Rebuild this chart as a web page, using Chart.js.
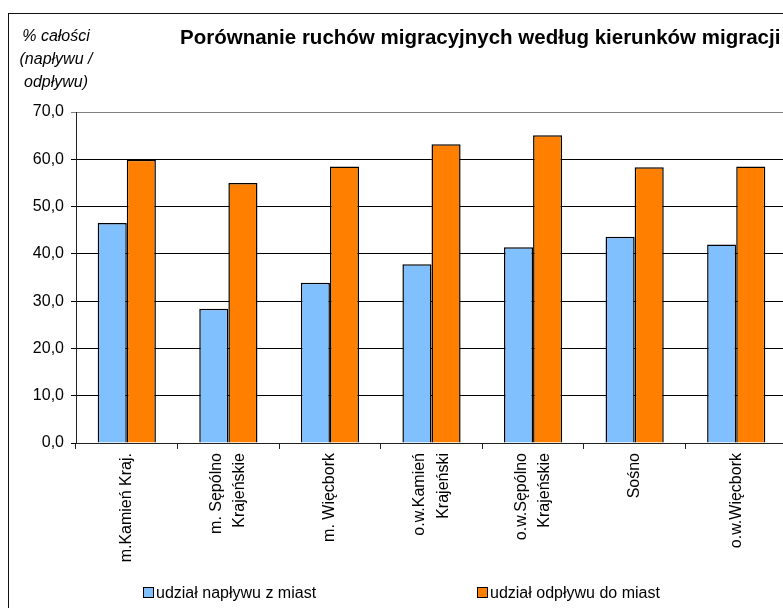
<!DOCTYPE html>
<html><head><meta charset="utf-8">
<style>html,body{margin:0;padding:0;overflow:hidden;background:#fff}canvas{display:block}</style>
<script src="https://cdn.jsdelivr.net/npm/chart.js@4/dist/chart.umd.min.js"></script>
</head><body>
<canvas id="c" width="800" height="640"></canvas>
<script>
const categories = [
  'm.Kamień Kraj.',
  ['m. Sępólno', 'Krajeńskie'],
  'm. Więcbork',
  ['o.w.Kamień', 'Krajeński'],
  ['o.w.Sępólno', 'Krajeńskie'],
  'Sośno',
  'o.w.Więcbork'
];
const inflowShare = [46.5, 28.4, 33.9, 37.8, 41.4, 43.6, 42.0];
const outflowShare = [59.9, 55.0, 58.5, 63.2, 65.1, 58.3, 58.5];
const seriesNames = ['udział napływu z miast', 'udział odpływu do miast'];
const seriesColors = ['#80C0FF', '#FF8000'];
const yMin = 0, yMax = 70, yStep = 10;
const chartTitle = 'Porównanie ruchów migracyjnych według kierunków migracji';
const yTitleLines = ['% całości', '(napływu /', 'odpływu)'];

const FONT = '"Liberation Sans", Arial, sans-serif';
const X_LINE_HEIGHT = 1.45;
const X_FONT_SIZE = 16;

// centre multi-line rotated category labels on their tick
const centerLabels = {
  id: 'centerLabels',
  beforeDraw(chart) {
    const sc = chart.scales.x;
    const items = sc.getLabelItems();
    const lh = X_FONT_SIZE * X_LINE_HEIGHT;
    items.forEach(it => {
      if (it._centered) return;
      const n = Array.isArray(it.label) ? it.label.length : 1;
      it.options.translation[0] -= (n - 1) * lh / 2;
      it._centered = true;
    });
  }
};

const decor = {
  id: 'decor',
  afterDraw(chart) {
    const ctx = chart.ctx;
    ctx.save();
    // outer frame
    ctx.strokeStyle = '#111';
    ctx.lineWidth = 1;
    ctx.strokeRect(8.5, 13.5, 900, 700);
    // title
    ctx.fillStyle = '#000';
    ctx.textBaseline = 'alphabetic';
    ctx.textAlign = 'left';
    ctx.font = 'bold 20.5px ' + FONT;
    ctx.fillText(chartTitle, 180, 44);
    // y axis title
    ctx.font = 'italic 16px ' + FONT;
    ctx.textAlign = 'center';
    yTitleLines.forEach((t, i) => ctx.fillText(t, 56, 41 + i * 23));
    // legend
    ctx.font = '16px ' + FONT;
    ctx.textAlign = 'left';
    const xs = [143, 477];
    chart.data.datasets.forEach((ds, i) => {
      ctx.fillStyle = ds.backgroundColor;
      ctx.fillRect(xs[i] + 0.5, 587.5, 10, 10);
      ctx.strokeStyle = '#000';
      ctx.strokeRect(xs[i] + 0.5, 587.5, 10, 10);
      ctx.fillStyle = '#000';
      ctx.fillText(ds.label, xs[i] + 13, 598);
    });
    ctx.restore();
  }
};

new Chart(document.getElementById('c'), {
  type: 'bar',
  data: {
    labels: categories,
    datasets: [
      { label: seriesNames[0], data: inflowShare, backgroundColor: seriesColors[0], borderColor: '#000', borderWidth: 1.5 },
      { label: seriesNames[1], data: outflowShare, backgroundColor: seriesColors[1], borderColor: '#000', borderWidth: 1.5 }
    ]
  },
  options: {
    responsive: false,
    animation: false,
    devicePixelRatio: 1,
    layout: { padding: { top: 112, right: 13, bottom: 0, left: 0 } },
    datasets: { bar: { barPercentage: 1, categoryPercentage: 0.573 } },
    plugins: { legend: { display: false }, title: { display: false }, tooltip: { enabled: false } },
    scales: {
      y: {
        min: yMin, max: yMax,
        ticks: {
          stepSize: yStep,
          color: '#000',
          font: { family: FONT, size: 16 },
          padding: 7,
          callback: v => v.toFixed(1).replace('.', ',')
        },
        grid: {
          color: c => (c.tick && c.tick.value === yMax) ? '#808080' : '#000',
          lineWidth: 1,
          tickLength: 5
        },
        border: { color: '#222', width: 1 },
        afterFit: s => { s.width = 76; }
      },
      x: {
        ticks: {
          color: '#000',
          font: { family: FONT, size: X_FONT_SIZE, lineHeight: X_LINE_HEIGHT },
          minRotation: 90, maxRotation: 90,
          autoSkip: false,
          padding: 4
        },
        grid: { offset: true, drawOnChartArea: false, tickLength: 6, color: '#222' },
        border: { color: '#222', width: 1 },
        afterFit: s => { s.height = 640 - 443; }
      }
    }
  },
  plugins: [centerLabels, decor]
});
</script>
</body></html>
